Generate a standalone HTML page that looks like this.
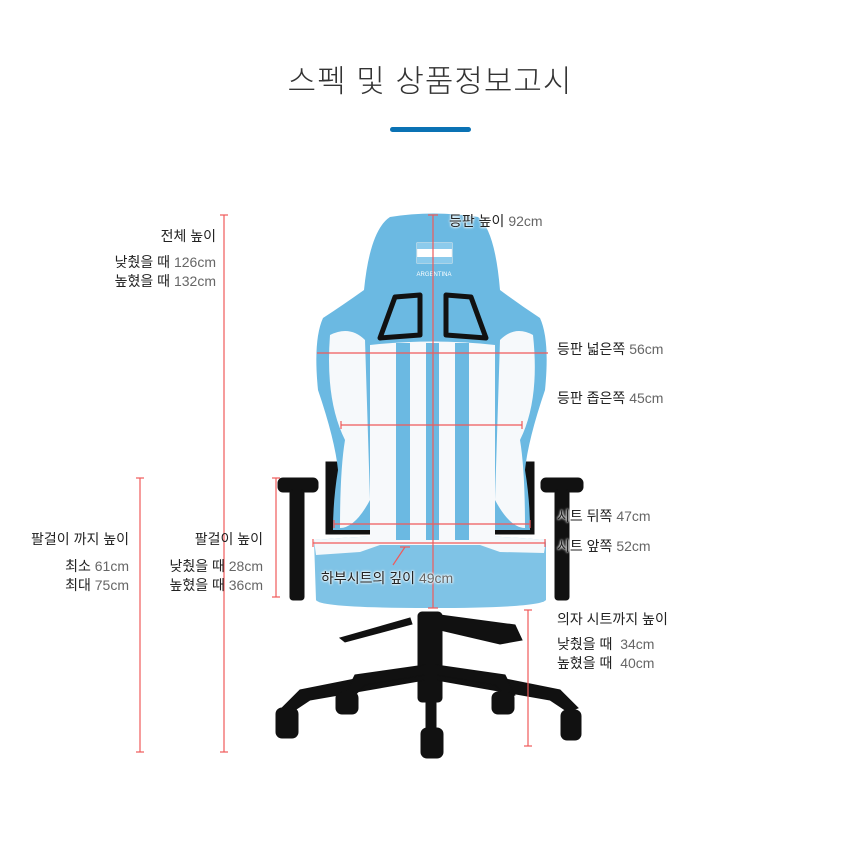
<!DOCTYPE html>
<html><head><meta charset="utf-8">
<style>
html,body{margin:0;padding:0;background:#fff;}
#w{position:relative;width:860px;height:852px;overflow:hidden;font-family:"Liberation Sans","Noto Sans CJK KR",sans-serif;color:#222;}
.t{position:absolute;font-size:14px;line-height:19px;white-space:nowrap;}
.r{text-align:right;}
.g{color:#666;}
.h{text-shadow:0 0 2px #fff,0 0 2px #fff,0 0 3px #fff;}
</style></head><body>
<div id="w">
<div class="t" style="left:0;width:860px;top:61px;text-align:center;font-size:31px;line-height:42px;font-weight:300;color:#333;letter-spacing:1px;">스펙 및 상품정보고시</div>
<div style="position:absolute;left:390px;top:127px;width:81px;height:5px;border-radius:3px;background:#0a72b4;"></div>

<svg width="860" height="852" style="position:absolute;left:0;top:0">
<g fill="#111" stroke="#111">
<path d="M340 638 L410 618 L412 624 L345 642Z"/>
<path d="M440 615 L515 625 L522 640 L500 644 L440 630Z"/>
<rect x="418" y="612" width="24" height="90" rx="4"/>
<path d="M425 665 L300 690 L282 708 L292 712 L310 700 L425 680Z"/>
<path d="M436 665 L560 690 L578 708 L568 712 L550 700 L436 680Z"/>
<path d="M425 665 L355 675 L345 695 L352 698 L365 685 L425 675Z"/>
<path d="M436 665 L505 675 L515 695 L508 698 L495 685 L436 675Z"/>
<rect x="426" y="670" width="10" height="60"/>
<rect x="276" y="708" width="22" height="30" rx="6"/>
<rect x="561" y="710" width="20" height="30" rx="6"/>
<rect x="336" y="692" width="22" height="22" rx="6"/>
<rect x="492" y="692" width="22" height="22" rx="6"/>
<rect x="421" y="728" width="22" height="30" rx="6"/>
<rect x="278" y="478" width="40" height="14" rx="5"/>
<rect x="290" y="490" width="14" height="110" rx="3"/>
<rect x="541" y="478" width="42" height="14" rx="5"/>
<rect x="555" y="490" width="14" height="110" rx="3"/>
<rect x="326" y="462" width="208" height="72"/>
</g>
<path d="M314 540 Q430 530 546 540 L546 600 Q540 608 430 608 Q320 608 316 600Z" fill="#7fc3e6"/>
<path d="M314 540 Q430 530 546 540 L544 553 L500 552 L480 545 L380 545 L360 552 L316 555Z" fill="#f4f8fb"/>
<path d="M390 217 Q433 210 478 217 Q495 230 500 290 Q520 305 540 318 Q550 340 545 390 Q528 440 525 470 Q530 500 530 530 L333 530 Q333 500 338 470 Q335 440 318 390 Q313 340 323 318 Q343 305 364 290 Q370 230 390 217Z" fill="#6bb9e2"/>
<path d="M330 335 Q350 325 365 340 L370 500 Q355 528 340 528 Q340 470 345 440 Q325 400 330 335Z" fill="#f6f9fb"/>
<path d="M533 335 Q515 325 500 340 L495 500 Q510 528 525 528 Q525 470 520 440 Q540 400 533 335Z" fill="#f6f9fb"/>
<path d="M370 345 Q433 338 495 345 L495 540 L370 540Z" fill="#f7f9fb"/>
<rect x="396" y="343" width="14" height="197" fill="#6bb9e2"/>
<rect x="426" y="343" width="13" height="197" fill="#6bb9e2"/>
<rect x="455" y="343" width="14" height="197" fill="#6bb9e2"/>
<path d="M380 338 L395 297 L420 295 L420 335 Z" fill="#6bb9e2" stroke="#111" stroke-width="5" stroke-linejoin="round"/>
<path d="M486 338 L471 297 L446 295 L446 335 Z" fill="#6bb9e2" stroke="#111" stroke-width="5" stroke-linejoin="round"/>
<rect x="417" y="243" width="35" height="20" fill="#fff" stroke="#eee"/>
<rect x="417" y="243" width="35" height="6" fill="#8ccbec"/>
<rect x="417" y="257" width="35" height="6" fill="#8ccbec"/>
<text x="434" y="276" font-size="6" fill="#fff" text-anchor="middle" font-family="Liberation Sans">ARGENTINA</text>
<g stroke="#f05a5a" stroke-width="1.2" fill="none">
<line x1="433" y1="215" x2="433" y2="608"/><line x1="428" y1="215" x2="438" y2="215"/><line x1="428" y1="608" x2="438" y2="608"/>
<line x1="317" y1="353" x2="548" y2="353"/>
<line x1="341" y1="425" x2="522" y2="425"/><line x1="341" y1="421" x2="341" y2="429"/><line x1="522" y1="421" x2="522" y2="429"/>
<line x1="334" y1="524" x2="530" y2="524"/><line x1="334" y1="520" x2="334" y2="528"/><line x1="530" y1="520" x2="530" y2="528"/>
<line x1="313" y1="543" x2="545" y2="543"/><line x1="313" y1="539" x2="313" y2="547"/><line x1="545" y1="539" x2="545" y2="547"/>
<line x1="405" y1="547" x2="393" y2="565"/><line x1="400" y1="547" x2="410" y2="547"/>
<line x1="224" y1="215" x2="224" y2="752"/><line x1="220" y1="215" x2="228" y2="215"/><line x1="220" y1="752" x2="228" y2="752"/>
<line x1="140" y1="478" x2="140" y2="752"/><line x1="136" y1="478" x2="144" y2="478"/><line x1="136" y1="752" x2="144" y2="752"/>
<line x1="276" y1="478" x2="276" y2="597"/><line x1="272" y1="478" x2="280" y2="478"/><line x1="272" y1="597" x2="280" y2="597"/>
<line x1="528" y1="610" x2="528" y2="746"/><line x1="524" y1="610" x2="532" y2="610"/><line x1="524" y1="746" x2="532" y2="746"/>
</g>
</svg>

<div class="t h" style="left:449px;top:212px;">등판 높이 <span class="g">92cm</span></div>
<div class="t r" style="left:0;width:216px;top:227px;">전체 높이</div>
<div class="t r" style="left:0;width:216px;top:253px;">낮췄을 때 <span class="g">126cm</span></div>
<div class="t r" style="left:0;width:216px;top:272px;">높혔을 때 <span class="g">132cm</span></div>
<div class="t" style="left:557px;top:340px;">등판 넓은쪽 <span class="g">56cm</span></div>
<div class="t" style="left:557px;top:389px;">등판 좁은쪽 <span class="g">45cm</span></div>
<div class="t h" style="left:557px;top:507px;">시트 뒤쪽 <span class="g">47cm</span></div>
<div class="t h" style="left:557px;top:537px;">시트 앞쪽 <span class="g">52cm</span></div>
<div class="t h" style="left:321px;top:569px;">하부시트의 깊이 <span class="g">49cm</span></div>
<div class="t r" style="left:0;width:129px;top:530px;">팔걸이 까지 높이</div>
<div class="t r" style="left:0;width:129px;top:557px;">최소 <span class="g">61cm</span></div>
<div class="t r" style="left:0;width:129px;top:576px;">최대 <span class="g">75cm</span></div>
<div class="t r" style="left:0;width:263px;top:530px;">팔걸이 높이</div>
<div class="t r" style="left:0;width:263px;top:557px;">낮췄을 때 <span class="g">28cm</span></div>
<div class="t r" style="left:0;width:263px;top:576px;">높혔을 때 <span class="g">36cm</span></div>
<div class="t" style="left:557px;top:610px;">의자 시트까지 높이</div>
<div class="t" style="left:557px;top:635px;">낮췄을 때&nbsp; <span class="g">34cm</span></div>
<div class="t" style="left:557px;top:654px;">높혔을 때&nbsp; <span class="g">40cm</span></div>
</div>
</body></html>
